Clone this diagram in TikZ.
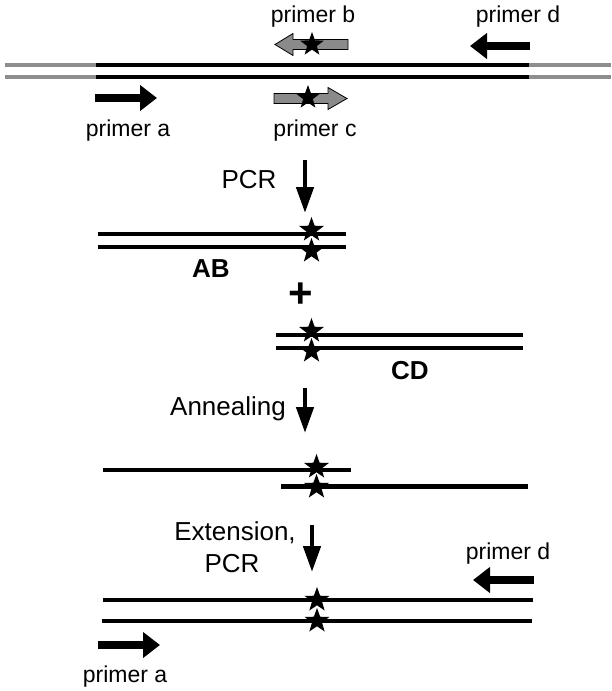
\documentclass[tikz,border=0pt]{standalone}
\usepackage{fontspec}
\setmainfont{Liberation Sans}
\usetikzlibrary{shapes.geometric,arrows.meta}
\definecolor{strandgray}{HTML}{8E8E8E}
\definecolor{primergray}{HTML}{8A8A8A}
\tikzset{
  strand/.style={line width=4.6pt},
  graystrand/.style={line width=4.6pt,draw=strandgray},
  starnode/.style={star,star points=5,star point ratio=2.45,fill=black,minimum size=26pt,inner sep=0pt,outer sep=0pt},
  smallstar/.style={starnode,minimum size=25pt},
  procarrow/.style={line width=4.6pt,-{Triangle[length=26pt,width=17pt]}},
  primerarrow/.style={line width=7.5pt,-{Triangle[length=17pt,width=25pt]}},
  grayprimer/.style={fill=primergray,draw=black,line width=0.8pt,line join=miter},
  primerlabel/.style={font=\fontsize{23}{27}\selectfont,inner sep=0pt,anchor=base},
  steplabel/.style={font=\fontsize{26}{32}\selectfont,inner sep=0pt,anchor=base},
  boldlabel/.style={font=\fontsize{26}{32}\selectfont\bfseries,inner sep=0pt,anchor=base}
}
\begin{document}
\begin{tikzpicture}[x=1pt,y=-1pt]
\useasboundingbox (0,0) rectangle (611,691);
\fill[white] (0,0) rectangle (611,691);

% ---- top template ----
\coordinate (tl1) at (5,65);   \coordinate (ta1) at (96,65);
\coordinate (tb1) at (529,65); \coordinate (tr1) at (611,65);
\coordinate (tl2) at (5,77);   \coordinate (ta2) at (96,77);
\coordinate (tb2) at (529,77); \coordinate (tr2) at (611,77);
\draw[graystrand] (tl1) -- (ta1);
\draw[graystrand] (tb1) -- (tr1);
\draw[graystrand] (tl2) -- (ta2);
\draw[graystrand] (tb2) -- (tr2);
\draw[strand] (ta1) -- (tb1);
\draw[strand] (ta2) -- (tb2);

% primer b (gray, pointing left)
\draw[grayprimer] (348,39.5) -- (293,39.5) -- (293,33.5) -- (275,44.5) -- (293,55.5) -- (293,49.5) -- (348,49.5) -- cycle;
\node[smallstar] (sb) at (312,44.5) {};
\node[primerlabel] (lb) at (313,22) {primer b};

% primer c (gray, pointing right)
\draw[grayprimer] (274,93.5) -- (328,93.5) -- (328,87.5) -- (347,98.5) -- (328,109.5) -- (328,103.5) -- (274,103.5) -- cycle;
\node[smallstar] (sc) at (308,97.5) {};
\node[primerlabel] (lc) at (315,136) {primer c};

% primer d (black, pointing left)
\coordinate (pd1) at (530,46); \coordinate (pd2) at (470,46);
\draw[primerarrow] (pd1) -- (pd2);
\node[primerlabel] (ld) at (518,22) {primer d};

% primer a (black, pointing right)
\coordinate (pa1) at (95,98); \coordinate (pa2) at (157,98);
\draw[primerarrow] (pa1) -- (pa2);
\node[primerlabel] (la) at (128,136) {primer a};

% ---- PCR step ----
\coordinate (p1) at (305,160); \coordinate (p2) at (305,213);
\draw[procarrow] (p1) -- (p2);
\node[steplabel] (lpcr) at (249,188) {PCR};

% AB
\coordinate (ab1l) at (98,234);  \coordinate (ab1r) at (346,234);
\coordinate (ab2l) at (98,247);  \coordinate (ab2r) at (346,247);
\draw[strand] (ab1l) -- (ab1r);
\draw[strand] (ab2l) -- (ab2r);
\node[starnode] (sab1) at (311.5,230) {};
\node[starnode] (sab2) at (311.5,251) {};
\node[boldlabel] (lab) at (211,277) {AB};

\node[font=\fontsize{42}{46}\selectfont\bfseries,inner sep=0pt] (plus) at (300.5,295) {+};

% CD
\coordinate (cd1l) at (276,335);  \coordinate (cd1r) at (523,335);
\coordinate (cd2l) at (276,348);  \coordinate (cd2r) at (523,348);
\draw[strand] (cd1l) -- (cd1r);
\draw[strand] (cd2l) -- (cd2r);
\node[starnode] (scd1) at (311.5,331) {};
\node[starnode] (scd2) at (311.5,351) {};
\node[boldlabel] (lcd) at (410,379) {CD};

% ---- Annealing step ----
\coordinate (an1) at (305,388); \coordinate (an2) at (305,433);
\draw[procarrow] (an1) -- (an2);
\node[steplabel] (lann) at (228,415) {Annealing};

\coordinate (h1l) at (103,470);  \coordinate (h1r) at (351,470);
\coordinate (h2l) at (281,486.5);  \coordinate (h2r) at (528,486.5);
\draw[strand] (h1l) -- (h1r);
\draw[strand] (h2l) -- (h2r);
\node[starnode] (sh1) at (316.5,467) {};
\node[starnode] (sh2) at (316.5,487) {};

% ---- Extension step ----
\coordinate (ex1) at (312,525); \coordinate (ex2) at (312,572);
\draw[procarrow] (ex1) -- (ex2);
\node[steplabel] (lext1) at (235,540) {Extension,};
\node[steplabel] (lext2) at (232,572) {PCR};

\node[primerlabel] (ld2) at (508,559) {primer d};
\coordinate (qd1) at (534,580); \coordinate (qd2) at (473,580);
\draw[primerarrow] (qd1) -- (qd2);

\coordinate (f1l) at (103,600);  \coordinate (f1r) at (533,600);
\coordinate (f2l) at (102,621);  \coordinate (f2r) at (532,621);
\draw[strand] (f1l) -- (f1r);
\draw[strand] (f2l) -- (f2r);
\node[starnode] (sf1) at (317,600) {};
\node[starnode] (sf2) at (317,621) {};

\coordinate (qa1) at (98,645); \coordinate (qa2) at (160,645);
\draw[primerarrow] (qa1) -- (qa2);
\node[primerlabel] (la2) at (125,682) {primer a};
\end{tikzpicture}
\end{document}
